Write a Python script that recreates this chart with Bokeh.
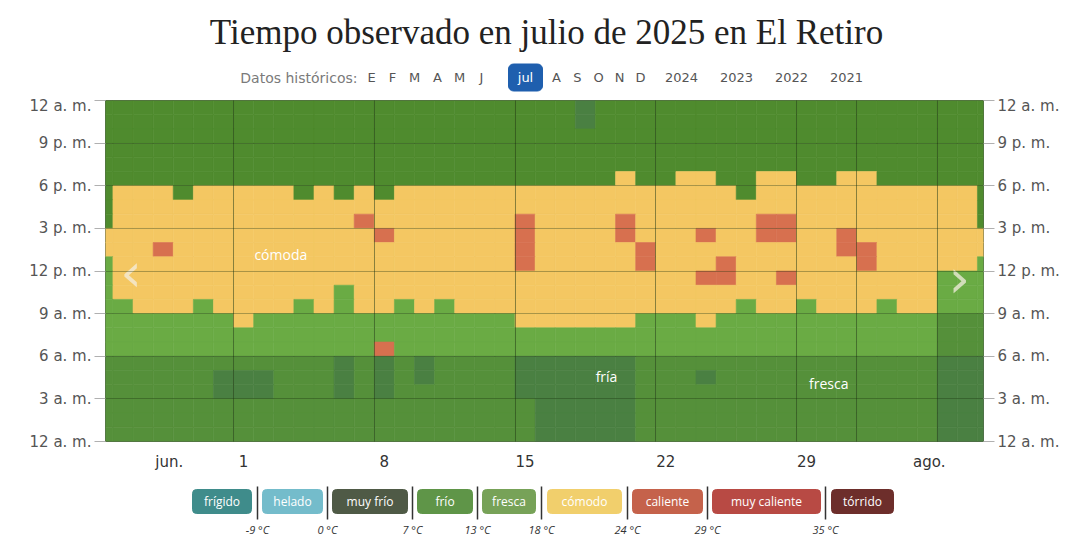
from bokeh.plotting import figure
from bokeh.models import Range1d, FixedTicker, LinearAxis, ColumnDataSource, Grid
from bokeh.layouts import column
from bokeh.embed import file_html
from bokeh.resources import INLINE
from bokeh.core.properties import value

# ---------------- data ----------------
TITLE = "Tiempo observado en julio de 2025 en El Retiro"
SUB_PREFIX = "Datos históricos:"
MONTH_LINKS = ["E", "F", "M", "A", "M", "J", "jul", "A", "S", "O", "N", "D"]
YEAR_LINKS = ["2024", "2023", "2022", "2021"]

# days relative to 1 July 2025 (0 = 1 jul)
DAY_OFFSETS = list(range(-7, 38))
X_TICKS = [-3.2, 0.5, 7.5, 14.5, 21.5, 28.5, 34.6]
X_LABELS = ["jun.", "1", "8", "15", "22", "29", "ago."]
WEEK_LINES = [0, 7, 14, 21, 28, 31, 35]

Y_TICKS = [0, 3, 6, 9, 12, 15, 18, 21, 24]
Y_LABELS = ["12 a. m.", "3 a. m.", "6 a. m.", "9 a. m.", "12 p. m.",
            "3 p. m.", "6 p. m.", "9 p. m.", "12 a. m."]

# observed category per hour (rows) and day (columns, weeks separated by spaces)
# d = fría (oscura), n = fresca nocturna, g = fresca vespertina, m = fresca matinal,
# Y = cómoda, R = caliente
GRID_ROWS = {
    23: "ggggggg ggggggg ggggggg gggdggg ggggggg ggggggg ggg",
    22: "ggggggg ggggggg ggggggg gggdggg ggggggg ggggggg ggg",
    21: "ggggggg ggggggg ggggggg ggggggg ggggggg ggggggg ggg",
    20: "ggggggg ggggggg ggggggg ggggggg ggggggg ggggggg ggg",
    19: "ggggggg ggggggg ggggggg ggggggg ggggggg ggggggg ggg",
    18: "ggggggg ggggggg ggggggg gggggYg gYYggYY ggYYggg ggg",
    17: "gYYYgYY YYYgYgY gYYYYYY YYYYYYY YYYYgYY YYYYYYY YYg",
    16: "gYYYYYY YYYYYYY YYYYYYY YYYYYYY YYYYYYY YYYYYYY YYg",
    15: "gYYYYYY YYYYYYR YYYYYYY RYYYYRY YYYYYRR YYYYYYY YYg",
    14: "YYYYYYY YYYYYYY RYYYYYY RYYYYRY YYRYYRR YYRYYYY YYY",
    13: "YYYRYYY YYYYYYY YYYYYYY RYYYYYR YYYYYYY YYRRYYY YYY",
    12: "mYYYYYY YYYYYYY YYYYYYY RYYYYYR YYYRYYY YYYRYYY YYm",
    11: "mYYYYYY YYYYYYY YYYYYYY YYYYYYY YYRRYYR YYYYYYY mmm",
    10: "mYYYYYY YYYYYmY YYYYYYY YYYYYYY YYYYYYY YYYYYYY mmm",
    9:  "mmYYYmY YYYmYmY YmYmYYY YYYYYYY YYYYmYY mYYYmYY mmm",
    8:  "mmmmmmm Ymmmmmm mmmmmmm YYYYYYm mmYmmmm mmmmmmm nnn",
    7:  "mmmmmmm mmmmmmm mmmmmmm mmmmmmm mmmmmmm mmmmmmm nnn",
    6:  "mmmmmmm mmmmmmm Rmmmmmm mmmmmmm mmmmmmm mmmmmmm nnn",
    5:  "nnnnnnn nnnnndn dndnnnn ddddddn nnnnnnn nnnnnnn ddd",
    4:  "nnnnnnd ddnnndn dndnnnn ddddddn nndnnnn nnnnnnn ddd",
    3:  "nnnnnnd ddnnndn dnnnnnn ddddddn nnnnnnn nnnnnnn ddd",
    2:  "nnnnnnn nnnnnnn nnnnnnn ndddddn nnnnnnn nnnnnnn ddd",
    1:  "nnnnnnn nnnnnnn nnnnnnn ndddddn nnnnnnn nnnnnnn ddd",
    0:  "nnnnnnn nnnnnnn nnnnnnn ndddddn nnnnnnn nnnnnnn ddd",
}
CELL_COLORS = {"d": "#4a8042", "n": "#55903a", "g": "#4f8b2e", "m": "#6aab44",
               "Y": "#f4c762", "R": "#d7704f"}

BAND_LABELS = ["cómoda", "fría", "fresca"]
BAND_X = [2.35, 18.55, 29.6]
BAND_Y = [13.15, 4.6, 4.05]

LEGEND_NAMES = ["frígido", "helado", "muy frío", "frío", "fresca", "cómodo",
                "caliente", "muy caliente", "tórrido"]
LEGEND_COLORS = ["#3f8c8b", "#74bccb", "#4f5a46", "#5f9548", "#77a258", "#f1cf6c",
                 "#c5624b", "#b84a44", "#6d2e2b"]
LEGEND_THRESHOLDS = ["-9 °C", "0 °C", "7 °C", "13 °C", "18 °C", "24 °C", "29 °C", "35 °C"]

SANS = value("Open Sans")
WIDE = value("DejaVu Sans")
W = 1081
L, R = 105, 98          # frame borders shared by all three stacked figures
FX = Range1d(L, W - R)   # header / legend use page pixel x coordinates

# ---------------- header ----------------
hdr = figure(width=W, height=96, x_range=FX, y_range=Range1d(96, 0),
             x_axis_type=None, y_axis_type=None, toolbar_location=None,
             output_backend="svg", min_border_left=L, min_border_right=R,
             min_border_top=0, min_border_bottom=0, outline_line_color=None)
hdr.text(x=[546], y=[32], text=[TITLE], text_font=value("Liberation Serif"),
         text_font_size="35px", text_align="center", text_baseline="middle",
         text_color="#222222")
SUB_Y = 77
hdr.text(x=[357], y=[SUB_Y], text=[SUB_PREFIX], text_font=WIDE, text_font_size="14px",
         text_align="right", text_baseline="middle", text_color="#7a7a7a")
link_x = [371, 392, 414, 437, 459, 481, 525, 556, 577, 598, 619, 640]
other = [i for i, m in enumerate(MONTH_LINKS) if m != "jul"]
hdr.text(x=[link_x[i] for i in other], y=[SUB_Y] * len(other),
         text=[MONTH_LINKS[i] for i in other], text_font=WIDE, text_font_size="13px",
         text_align="center", text_baseline="middle", text_color="#555555")
sel = MONTH_LINKS.index("jul")
hdr.rect(x=[link_x[sel]], y=[SUB_Y], width=34, height=27, fill_color="#1f5fae",
         line_color="#1f5fae", border_radius=5)
hdr.text(x=[link_x[sel]], y=[SUB_Y], text=[MONTH_LINKS[sel]], text_font=WIDE,
         text_font_size="13px", text_align="center", text_baseline="middle",
         text_color="white")
year_x = [681, 736, 791, 846]
hdr.text(x=year_x, y=[SUB_Y] * 4, text=YEAR_LINKS, text_font=WIDE, text_font_size="13px",
         text_align="center", text_baseline="middle", text_color="#555555")

# ---------------- heat map ----------------
xs, ys, cs = [], [], []
for h, row in GRID_ROWS.items():
    codes = "".join(row.split())
    for d, c in zip(DAY_OFFSETS, codes):
        xs.append(d + 0.5)
        ys.append(h + 0.5)
        cs.append(CELL_COLORS[c])
src = ColumnDataSource(dict(x=xs, y=ys, color=cs))

p = figure(width=W, height=377, x_range=Range1d(-6.37, 37.3), y_range=Range1d(0, 24),
           x_axis_type=None, y_axis_type=None, toolbar_location=None,
           output_backend="svg", min_border_left=L, min_border_right=R,
           min_border_top=4, min_border_bottom=30)
p.outline_line_color = "#2b3b22"
p.outline_line_alpha = 0.8
p.rect(x="x", y="y", width=1, height=1, fill_color="color", line_color="color",
       line_width=0.6, source=src)

for place in ("left", "right"):
    ax = LinearAxis(ticker=FixedTicker(ticks=Y_TICKS),
                    major_label_overrides=dict(zip(Y_TICKS, Y_LABELS)))
    ax.axis_line_color = None
    ax.major_tick_line_color = "#b0b0b0"
    ax.major_tick_out = 11
    ax.major_tick_in = 0
    ax.minor_tick_line_color = None
    ax.major_label_standoff = 3
    ax.major_label_text_font = "DejaVu Sans"
    ax.major_label_text_font_size = "15px"
    ax.major_label_text_color = "#555555"
    p.add_layout(ax, place)

xb = LinearAxis(ticker=FixedTicker(ticks=X_TICKS),
                major_label_overrides=dict(zip(X_TICKS, X_LABELS)))
xb.axis_line_color = None
xb.major_tick_line_color = None
xb.minor_tick_line_color = None
xb.major_tick_out = 0
xb.major_label_standoff = 11
xb.major_label_text_font = "DejaVu Sans"
xb.major_label_text_font_size = "15px"
xb.major_label_text_color = "#333333"
p.add_layout(xb, "below")

vg = Grid(dimension=0, ticker=FixedTicker(ticks=WEEK_LINES), grid_line_color="#1c3310",
          grid_line_alpha=0.5, level="overlay")
hg = Grid(dimension=1, ticker=FixedTicker(ticks=Y_TICKS[1:-1]), grid_line_color="#1c3310",
          grid_line_alpha=0.35, level="overlay")
p.add_layout(vg)
p.add_layout(hg)

p.text(x=BAND_X, y=BAND_Y, text=BAND_LABELS, text_font=SANS, text_font_size="14px",
       text_align="center", text_baseline="middle", text_color="white")
p.text(x=[-5.1, 36.1], y=[11.9, 11.5], text=["‹", "›"], text_font=value("DejaVu Sans"),
       text_font_size="54px", text_align="center", text_baseline="middle",
       text_color="#f4eee0", text_alpha=0.75)

# ---------------- legend ----------------
LG_TOP = 473
lg = figure(width=W, height=540 - LG_TOP, x_range=FX, y_range=Range1d(540, LG_TOP),
            x_axis_type=None, y_axis_type=None, toolbar_location=None,
            output_backend="svg", min_border_left=L, min_border_right=R,
            min_border_top=0, min_border_bottom=0, outline_line_color=None)
box_left = [192, 262, 332, 417, 482, 547, 632, 712, 831]
box_right = [251, 322, 407, 472, 535, 621, 702, 820, 893]
lg.rect(x=[(a + b) / 2 for a, b in zip(box_left, box_right)], y=[501] * 9,
        width=[b - a for a, b in zip(box_left, box_right)], height=24,
        fill_color=LEGEND_COLORS, line_color=LEGEND_COLORS, border_radius=4)
lg.text(x=[(a + b) / 2 for a, b in zip(box_left, box_right)], y=[501] * 9,
        text=LEGEND_NAMES, text_font=SANS, text_font_size="12px",
        text_align="center", text_baseline="middle", text_color="white")
div_x = [257, 327, 412, 477, 541, 627, 707, 825]
lg.segment(x0=div_x, x1=div_x, y0=[486] * 8, y1=[519] * 8, line_color="#333333",
           line_width=1.5)
lg.text(x=div_x, y=[529] * 8, text=LEGEND_THRESHOLDS, text_font=SANS,
        text_font_size="11px", text_font_style="italic", text_align="center",
        text_baseline="middle", text_color="#333333")

layout = column(hdr, p, lg, spacing=0)
open("out.html", "w").write(file_html(layout, INLINE))
